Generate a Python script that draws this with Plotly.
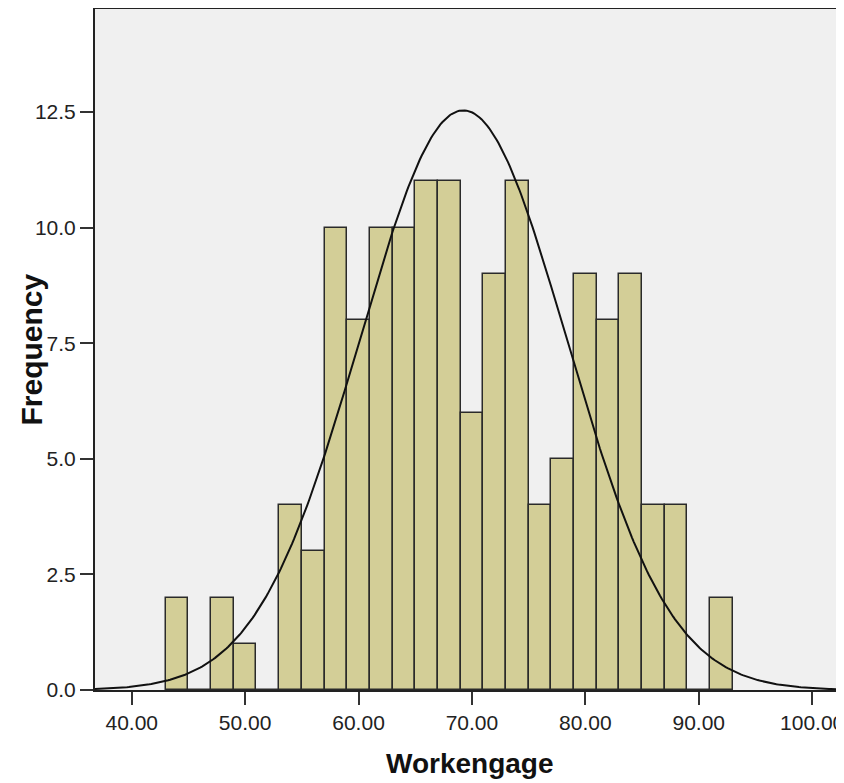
import numpy as np
import plotly.graph_objects as go

# Histogram data (bin width 2)
bin_starts = [43, 45, 47, 49, 51, 53, 55, 57, 59, 61, 63, 65, 67, 69, 71, 73, 75, 77, 79, 81, 83, 85, 87, 89, 91]
counts     = [2, 0, 2, 1, 0, 4, 3, 10, 8, 10, 10, 11, 11, 6, 9, 11, 4, 5, 9, 8, 9, 4, 4, 0, 2]
bin_width = 2

# Fitted normal curve parameters
mean_val = 69.24
sd_val = 9.10
n_total = sum(counts)

x_ticks = [40, 50, 60, 70, 80, 90, 100]
x_tick_labels = ["40.00", "50.00", "60.00", "70.00", "80.00", "90.00", "100.00"]
y_ticks = [0, 2.5, 5, 7.5, 10, 12.5]
y_tick_labels = ["0.0", "2.5", "5.0", "7.5", "10.0", "12.5"]

x_range = [36.76, 102.81]
y_range = [0, 14.73]

centers = [s + bin_width / 2 for s in bin_starts]

xs = np.linspace(x_range[0], x_range[1], 400)
ys = n_total * bin_width / (sd_val * np.sqrt(2 * np.pi)) * np.exp(-0.5 * ((xs - mean_val) / sd_val) ** 2)

fig = go.Figure()
fig.add_trace(go.Bar(
    x=centers, y=counts, width=bin_width,
    marker=dict(color="#D3CE97", line=dict(color="#2a2a2a", width=1.5)),
    hoverinfo="x+y",
))
fig.add_trace(go.Scatter(
    x=xs, y=ys, mode="lines",
    line=dict(color="#111111", width=2),
    hoverinfo="skip",
))

axis_font = dict(family="Liberation Sans, Arial, sans-serif", size=21, color="#222222")

fig.update_layout(
    width=836, height=775,
    margin=dict(l=87, r=0, t=1, b=93, autoexpand=False),
    paper_bgcolor="white",
    plot_bgcolor="#F0F0F0",
    showlegend=False,
    bargap=0,
    xaxis=dict(
        range=x_range, automargin=False,
        tickvals=x_ticks, ticktext=x_tick_labels,
        ticks="outside", ticklen=13, tickwidth=2, tickcolor="#333333",
        ticklabeloverflow="allow",
        showline=True, linecolor="#222222", linewidth=2, mirror=True,
        showgrid=False, zeroline=False,
        tickfont=axis_font,
    ),
    yaxis=dict(
        range=y_range, automargin=False,
        tickvals=y_ticks, ticktext=y_tick_labels,
        ticks="outside", ticklen=13, tickwidth=2, tickcolor="#333333",
        ticklabeloverflow="allow",
        showline=True, linecolor="#222222", linewidth=2,
        showgrid=False, zeroline=False,
        tickfont=axis_font,
    ),
    annotations=[
        dict(
            text="<b>Frequency</b>", textangle=-90,
            xref="paper", yref="paper", x=0, y=0.5,
            xanchor="center", yanchor="middle", xshift=-64, showarrow=False,
            font=dict(family="Liberation Sans, Arial, sans-serif", size=30, color="#111111"),
        ),
        dict(
            text="<b>Workengage</b>",
            xref="paper", yref="paper", x=0.5, y=0,
            xanchor="center", yanchor="middle", yshift=-73, showarrow=False,
            font=dict(family="Liberation Sans, Arial, sans-serif", size=28, color="#111111"),
        ),
    ],
)

fig.write_html("out.html")
